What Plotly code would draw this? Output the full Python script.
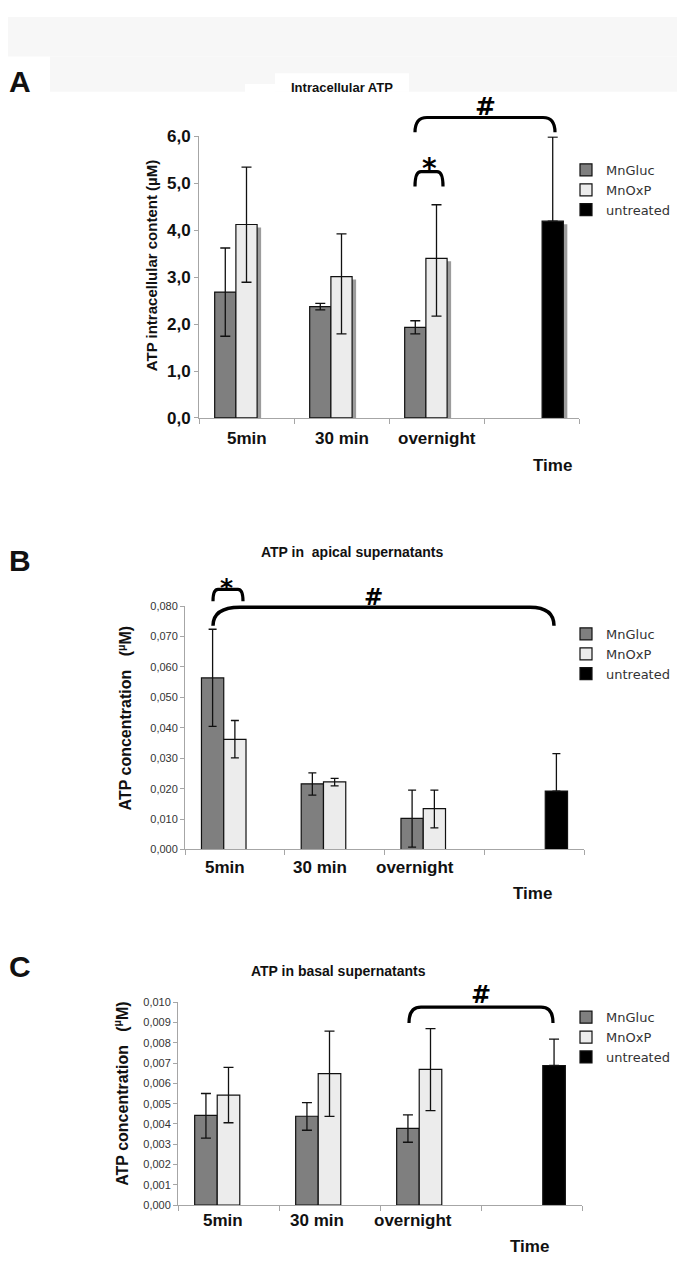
import plotly.graph_objects as go

# ---------------- data ----------------
categories = ["5min", "30 min", "overnight", " "]
cat_labels = ["5min", "30 min", "overnight"]
series_names = ["MnGluc", "MnOxP", "untreated"]

# Panel A: Intracellular ATP (µM)
a_gluc = [2.68, 2.37, 1.93, None]
a_gluc_plus = [0.94, 0.07, 0.14, 0]
a_gluc_minus = [0.94, 0.07, 0.14, 0]
a_oxp = [4.12, 3.01, 3.40, None]
a_oxp_plus = [1.22, 0.91, 1.14, 0]
a_oxp_minus = [1.23, 1.22, 1.23, 0]
a_untr = [None, None, None, 4.19]
a_untr_plus = [0, 0, 0, 1.79]
a_untr_minus = [0, 0, 0, 0]

# Panel B: ATP in apical supernatants (µM)
b_gluc = [0.0564, 0.0216, 0.0102, None]
b_gluc_plus = [0.0160, 0.0036, 0.0093, 0]
b_gluc_minus = [0.0159, 0.0037, 0.0094, 0]
b_oxp = [0.0362, 0.0222, 0.0134, None]
b_oxp_plus = [0.0062, 0.0012, 0.0061, 0]
b_oxp_minus = [0.0061, 0.0013, 0.0063, 0]
b_untr = [None, None, None, 0.0192]
b_untr_plus = [0, 0, 0, 0.0123]
b_untr_minus = [0, 0, 0, 0]

# Panel C: ATP in basal supernatants (µM)
c_gluc = [0.00442, 0.00438, 0.00378, None]
c_gluc_plus = [0.00108, 0.00067, 0.00067, 0]
c_gluc_minus = [0.00112, 0.00069, 0.00068, 0]
c_oxp = [0.00542, 0.00648, 0.00669, None]
c_oxp_plus = [0.00137, 0.00209, 0.00201, 0]
c_oxp_minus = [0.00136, 0.00211, 0.00203, 0]
c_untr = [None, None, None, 0.00688]
c_untr_plus = [0, 0, 0, 0.0013]
c_untr_minus = [0, 0, 0, 0]

# ---------------- helpers ----------------
W, H = 685, 1283


def px(x):
    return x / W


def py(y):
    return 1 - y / H


COLORS = ["#7f7f7f", "#ececec", "#000000"]
FONT_B = "Arial, Liberation Sans, sans-serif"
FONT_SYM = "DejaVu Sans, sans-serif"

fig = go.Figure()


def add_panel(vals, plus, minus, xa, ya, legend, capw, showlegend=True, shadow=False):
    for i, name in enumerate(series_names):
        if shadow:
            fig.add_trace(go.Bar(
                x=categories, y=vals[i], name=name, xaxis=xa, yaxis=ya,
                marker=dict(color="#9c9c9c", line=dict(width=0)),
                showlegend=False, hoverinfo="skip",
            ))
        else:
            fig.add_trace(go.Bar(
                x=categories, y=vals[i], name=name, xaxis=xa, yaxis=ya,
                legend=legend, showlegend=showlegend,
                marker=dict(color=COLORS[i], line=dict(color="#111", width=1.2)),
                error_y=dict(type="data", symmetric=False, array=plus[i],
                             arrayminus=minus[i], color="#111", thickness=1.3,
                             width=capw),
            ))


A_vals = [a_gluc, a_oxp, a_untr]
A_plus = [a_gluc_plus, a_oxp_plus, a_untr_plus]
A_minus = [a_gluc_minus, a_oxp_minus, a_untr_minus]
B_vals = [b_gluc, b_oxp, b_untr]
B_plus = [b_gluc_plus, b_oxp_plus, b_untr_plus]
B_minus = [b_gluc_minus, b_oxp_minus, b_untr_minus]
C_vals = [c_gluc, c_oxp, c_untr]
C_plus = [c_gluc_plus, c_oxp_plus, c_untr_plus]
C_minus = [c_gluc_minus, c_oxp_minus, c_untr_minus]

# shadow of panel A bars (drawn first, beneath)
add_panel(A_vals, A_plus, A_minus, "x", "y", None, 0, shadow=True)
add_panel(A_vals, A_plus, A_minus, "x2", "y2", "legend", 5)
add_panel(B_vals, B_plus, B_minus, "x3", "y3", "legend2", 4)
add_panel(C_vals, C_plus, C_minus, "x4", "y4", "legend3", 5)

# ---------------- axes ----------------
AX_COL = "#a6a6a6"


def xaxis_cfg(x0, x1):
    return dict(domain=[px(x0), px(x1)], type="category", categoryorder="array",
                categoryarray=categories, showline=True, linecolor=AX_COL,
                linewidth=1, ticks="outside", tickson="boundaries", ticklen=5,
                tickcolor=AX_COL, showticklabels=False, showgrid=False,
                zeroline=False, fixedrange=True)


def yaxis_cfg(y0, y1, rng, dtick, fmt, font, anchor):
    return dict(domain=[py(y0), py(y1)], range=rng, dtick=dtick, tickformat=fmt,
                showline=True, linecolor=AX_COL, linewidth=1, ticks="outside",
                ticklen=4, tickcolor=AX_COL, showgrid=False, zeroline=False,
                tickfont=font, anchor=anchor, fixedrange=True)


# shadow axes (hidden) – shifted 4px right, 3px down
fig.update_layout(
    xaxis=dict(domain=[px(195), px(575)], type="category", categoryorder="array",
               categoryarray=categories, visible=False, fixedrange=True),
    yaxis=dict(domain=[py(407), py(124)], range=[3 / 47.67, 6.0], visible=False,
               fixedrange=True, anchor="x"),
    xaxis2=dict(xaxis_cfg(191, 571), anchor="y2"),
    yaxis2=yaxis_cfg(407, 121, [0, 6], 1, ".1f",
                     dict(family=FONT_B, size=17, color="#111", weight="bold"), "x2"),
    xaxis3=dict(xaxis_cfg(177, 576), anchor="y3"),
    yaxis3=yaxis_cfg(845, 598, [0, 0.08], 0.01, ".3f",
                     dict(family=FONT_B, size=11, color="#333"), "x3"),
    xaxis4=dict(xaxis_cfg(170, 574), anchor="y4"),
    yaxis4=yaxis_cfg(1206, 1000, [0, 0.01], 0.001, ".3f",
                     dict(family=FONT_B, size=11, color="#333"), "x4"),
)

# ---------------- legends ----------------
leg_common = dict(xanchor="left", yanchor="top", bgcolor="rgba(0,0,0,0)",
                  font=dict(family="DejaVu Sans, Verdana, sans-serif", size=13, color="#333"),
                  itemwidth=30, tracegroupgap=0, traceorder="normal")
fig.update_layout(
    legend=dict(leg_common, x=px(558), y=py(140)),
    legend2=dict(leg_common, x=px(558), y=py(611)),
    legend3=dict(leg_common, x=px(558), y=py(1000)),
)

# ---------------- annotations ----------------
ann = []


def text(x, y, t, size, bold=True, angle=0, color="#111", family=FONT_B):
    ann.append(dict(x=px(x), y=py(y), xref="paper", yref="paper", text=t,
                    showarrow=False, textangle=angle, xanchor="center", yanchor="middle",
                    font=dict(family=family, size=size, color=color,
                              weight="bold" if bold else "normal")))


# panel letters
text(12, 65, "A", 30)
text(12, 552, "B", 30)
text(12, 964, "C", 30)
# titles
text(334, 72, "Intracellular ATP", 13)
text(344, 543, "ATP in  apical supernatants", 14)
text(330, 968, "ATP in basal supernatants", 14)
# y titles
text(143, 253, "ATP intracellular content (µM)", 15, angle=-90)
text(117, 712, "ATP concentration   (<sup>µ</sup>M)", 16, angle=-90)
text(113, 1092, "ATP concentration   (<sup>µ</sup>M)", 16, angle=-90)
# Time
text(544, 455, "Time", 17)
text(524, 890, "Time", 17)
text(521, 1248, "Time", 17)

# category labels
for xa, ylab, shifts in [("x2", 428, [0, 0, 0]), ("x3", 863, [-10, -15, -19]),
                         ("x4", 1222, [-6, -13, -18])]:
    for lab, cat, sh in zip(cat_labels, categories, shifts):
        ann.append(dict(x=cat, y=py(ylab), xref=xa, yref="paper", text=lab,
                        showarrow=False, xshift=sh, xanchor="center", yanchor="middle",
                        font=dict(family=FONT_B, size=17, color="#111", weight="bold")))

# significance symbols
text(477, 91, "#", 25, color="#000", family=FONT_SYM)
text(421, 154, "*", 28, color="#000", family=FONT_SYM)
text(218, 579, "*", 25, color="#000", family=FONT_SYM)
text(365, 589, "#", 23, color="#000", family=FONT_SYM)
text(473, 993, "#", 24, color="#000", family=FONT_SYM)

fig.update_layout(annotations=ann)

# ---------------- shapes ----------------
shapes = []


def bracket(x0, x1, ytop, yend, r0, r1, w):
    p = (f"M {px(x0)},{py(yend)} Q {px(x0)},{py(ytop)} {px(x0 + r0)},{py(ytop)} "
         f"L {px(x1 - r1)},{py(ytop)} Q {px(x1)},{py(ytop)} {px(x1)},{py(yend)}")
    shapes.append(dict(type="path", path=p, xref="paper", yref="paper",
                       line=dict(color="#000", width=w)))


def rect(x0, y0, x1, y1, color):
    shapes.append(dict(type="rect", xref="paper", yref="paper", x0=px(x0), x1=px(x1),
                       y0=py(y1), y1=py(y0), fillcolor=color, line=dict(width=0),
                       layer="below"))


rect(0, 0, 685, 40, "#f7f7f7")
rect(42, 40, 685, 76, "#f7f7f7")
rect(267, 57, 401, 76, "#ffffff")
rect(237, 68, 267, 76, "#ffffff")

bracket(407, 547, 102, 117, 12, 12, 3.2)
bracket(407, 435, 157, 172, 6, 6, 3.2)
bracket(205, 546, 599, 618, 27, 24, 3.5)
bracket(205, 235, 581, 593, 5, 5, 3.2)
bracket(401, 545, 1005, 1021, 12, 12, 3.2)

fig.update_layout(shapes=shapes)

fig.update_layout(
    width=W, height=H, margin=dict(l=0, r=0, t=0, b=0),
    paper_bgcolor="#ffffff", plot_bgcolor="rgba(0,0,0,0)",
    barmode="group", bargap=0.33, bargroupgap=0,
    separators=", ", showlegend=True,
)

fig.write_html("out.html")
